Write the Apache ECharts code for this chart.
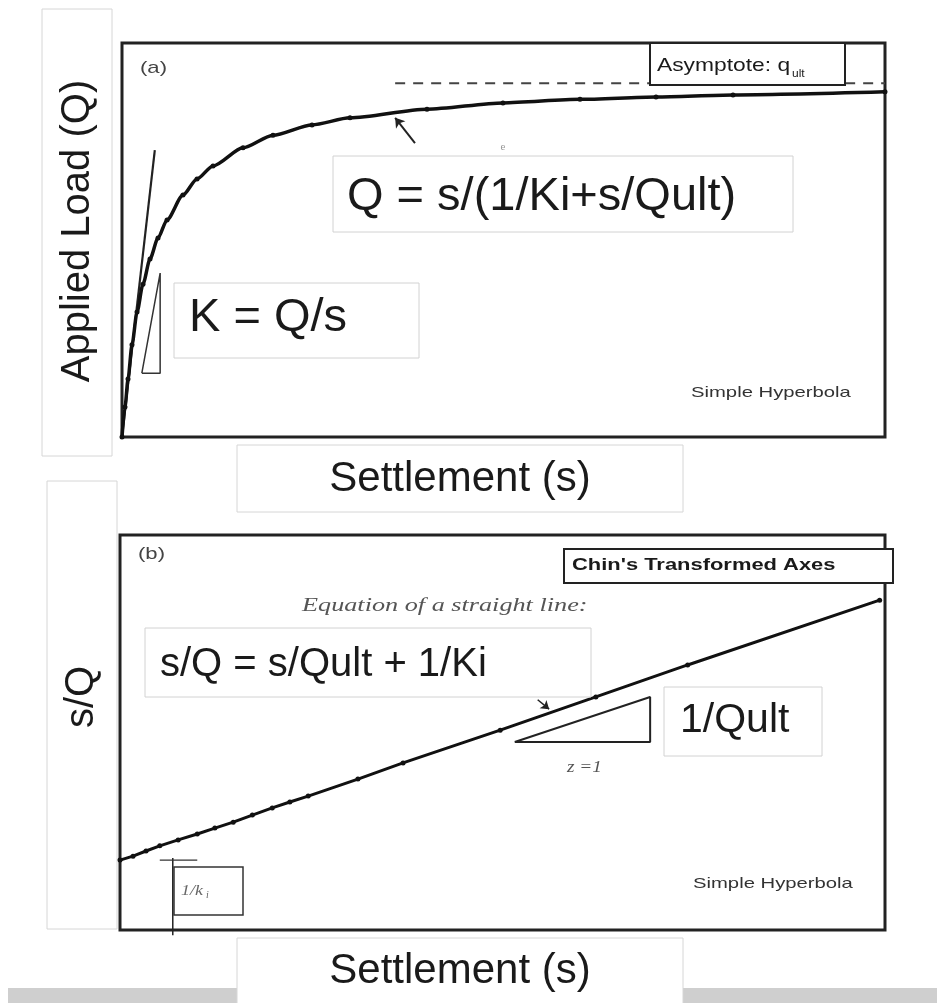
<!DOCTYPE html>
<html>
<head>
<meta charset="utf-8">
<script src="https://cdn.jsdelivr.net/npm/echarts@6/dist/echarts.min.js"></script>
<style>
html,body{margin:0;padding:0;background:#fff;}
#chart{width:937px;height:1003px;}
</style>
</head>
<body>
<div id="chart"></div>
<script>
// ---- Panel (a): load-settlement hyperbola (normalised 0-100 units) ----
const settlementA = [0, 0.39, 0.79, 1.31, 1.97, 2.75, 3.67, 4.72, 5.90, 7.99, 9.83, 11.93, 15.86, 19.79, 24.90, 29.88, 39.97, 49.93, 60.03, 69.99, 80.08, 100];
const loadA       = [0, 7.6, 14.7, 23.4, 31.7, 38.8, 45.2, 50.5, 55.1, 61.4, 65.5, 68.8, 73.4, 76.6, 79.2, 81.0, 83.2, 84.8, 85.7, 86.3, 86.8, 87.6];
const tangentS = [0, 4.3];
const tangentQ = [0, 72.8];
const triangleAS = [2.6, 5.0, 5.0, 2.6];
const triangleAQ = [16.2, 16.2, 41.6, 16.2];
const asymptoteS = [35.8, 100];
const asymptoteQ = [89.8, 89.8];
const arrowA = [[38.4, 74.6], [35.8, 81.0]];

// ---- Panel (b): Chin's transformed axes ----
const settlementB = [0, 1.7, 3.4, 5.2, 7.6, 10.1, 12.4, 14.8, 17.3, 19.9, 22.2, 24.6, 31.1, 37.0, 49.7, 62.2, 74.2, 99.3];
const ratioB      = [17.7, 18.7, 20.0, 21.3, 22.8, 24.3, 25.8, 27.3, 29.1, 30.9, 32.4, 33.9, 38.2, 42.3, 50.6, 59.0, 67.1, 83.5];
const triangleBS = [51.6, 69.3, 69.3, 51.6];
const triangleBV = [47.6, 59.0, 47.6, 47.6];
const interceptS = [6.9, 6.9];
const interceptV = [18.2, -1.3];
const interceptTickS = [5.2, 10.1];
const interceptTickV = [17.7, 17.7];
const arrowB = [[54.6, 58.3], [56.1, 55.9]];

// ---- Texts ----
const yLabelA = 'Applied Load (Q)';
const yLabelB = 's/Q';
const xLabel = 'Settlement (s)';
const eqA = 'Q = s/(1/Ki+s/Qult)';
const eqK = 'K = Q/s';
const eqB = 's/Q = s/Qult + 1/Ki';
const slopeLabel = '1/Qult';

function pairs(xs, ys){ return xs.map((x,i)=>[x, ys[i]]); }

const SANS = "'Liberation Sans', Arial, Helvetica, sans-serif";
const SERIF = "'Liberation Serif', 'Times New Roman', serif";

function box(x,y,w,h,stroke,lw,z){
  return {type:'rect', z: z||10, shape:{x:x,y:y,width:w,height:h},
    style:{fill:'#fff', stroke:stroke||'#d2d2d2', lineWidth:lw||1}};
}
function txt(x,y,text,font,fill,align,opts){
  const o = Object.assign({type:'text', z:20, x:x, y:y,
    style:{text:text, font:font, fill:fill||'#1a1a1a', textAlign:align||'left', textVerticalAlign:'middle', align:align||'left', verticalAlign:'middle'}}, opts||{});
  return o;
}

const chart = echarts.init(document.getElementById('chart'), null, {renderer:'canvas'});

const axisHidden = {show:false, min:0, max:100, splitLine:{show:false}};

chart.setOption({
  animation:false,
  backgroundColor:'#fff',
  grid:[
    {left:122, top:43, width:763, height:394, show:true, borderColor:'#222', borderWidth:3, backgroundColor:'transparent'},
    {left:120, top:535, width:765, height:395, show:true, borderColor:'#222', borderWidth:3, backgroundColor:'transparent'}
  ],
  xAxis:[Object.assign({type:'value', gridIndex:0}, axisHidden), Object.assign({type:'value', gridIndex:1}, axisHidden)],
  yAxis:[Object.assign({type:'value', gridIndex:0}, axisHidden), Object.assign({type:'value', gridIndex:1}, axisHidden)],
  series:[
    {type:'line', xAxisIndex:0, yAxisIndex:0, data:pairs(settlementA, loadA), smooth:0.25, smoothMonotone:'x',
     symbol:'circle', symbolSize:5, itemStyle:{color:'#111'}, lineStyle:{color:'#111', width:3.5}, z:5},
    {type:'line', xAxisIndex:0, yAxisIndex:0, data:pairs(tangentS, tangentQ), symbol:'none',
     lineStyle:{color:'#222', width:2.2}},
    {type:'line', xAxisIndex:0, yAxisIndex:0, data:pairs(triangleAS, triangleAQ), symbol:'none',
     lineStyle:{color:'#333', width:1.5}},
    {type:'line', xAxisIndex:0, yAxisIndex:0, data:pairs(asymptoteS, asymptoteQ), symbol:'none',
     lineStyle:{color:'#444', width:2, type:[10,8]}},
    {type:'lines', coordinateSystem:'cartesian2d', xAxisIndex:0, yAxisIndex:0, data:[{coords:arrowA}],
     symbol:['none','arrow'], symbolSize:9, lineStyle:{color:'#222', width:2, opacity:1}},
    {type:'line', xAxisIndex:1, yAxisIndex:1, data:pairs(settlementB, ratioB),
     symbol:'circle', symbolSize:5, itemStyle:{color:'#111'}, lineStyle:{color:'#111', width:3}, z:5},
    {type:'line', xAxisIndex:1, yAxisIndex:1, data:pairs(triangleBS, triangleBV), symbol:'none',
     lineStyle:{color:'#222', width:2}},
    {type:'line', xAxisIndex:1, yAxisIndex:1, data:pairs(interceptS, interceptV), symbol:'none', clip:false,
     lineStyle:{color:'#222', width:1.5}},
    {type:'line', xAxisIndex:1, yAxisIndex:1, data:pairs(interceptTickS, interceptTickV), symbol:'none', clip:false,
     lineStyle:{color:'#333', width:1.2}},
    {type:'lines', coordinateSystem:'cartesian2d', xAxisIndex:1, yAxisIndex:1, data:[{coords:arrowB}],
     symbol:['none','arrow'], symbolSize:8, lineStyle:{color:'#222', width:1.5, opacity:1}}
  ],
  graphic:[
    // bottom grey strip
    {type:'rect', z:1, shape:{x:8,y:988,width:929,height:15}, style:{fill:'#cfcfcf'}},
    // y-axis label boxes
    box(42,9,70,447,'#d6d6d6',1,2),
    txt(78,231,yLabelA,'40px '+SANS,'#1a1a1a','center',{rotation:Math.PI/2}),
    box(47,481,70,448,'#d6d6d6',1,2),
    txt(82,697,yLabelB,'40px '+SANS,'#1a1a1a','center',{rotation:Math.PI/2}),
    // x-axis label boxes
    box(237,445,446,67,'#d6d6d6',1,2),
    txt(460,479,xLabel,'42px '+SANS,'#1a1a1a','center'),
    box(237,938,446,70,'#d6d6d6',1,3),
    txt(460,971,xLabel,'42px '+SANS,'#1a1a1a','center'),
    // panel (a) annotations
    txt(140,68,'(a)','17px '+SANS,'#444','left',{scaleX:1.3}),
    box(650,43,195,42,'#222',2,30),
    txt(657,66,'Asymptote: q','19px '+SANS,'#1a1a1a','left',{scaleX:1.2,z:31}),
    txt(792,74,'ult','10px '+SANS,'#1a1a1a','left',{scaleX:1.2,z:31}),
    txt(503,147,'e','11px '+SERIF,'#999','center'),
    box(333,156,460,76,'#d2d2d2',1,10),
    txt(347,197,eqA,'47px '+SANS,'#1a1a1a','left'),
    box(174,283,245,75,'#d2d2d2',1,10),
    txt(189,318,eqK,'47px '+SANS,'#1a1a1a','left'),
    txt(691,393,'Simple Hyperbola','15px '+SANS,'#333','left',{scaleX:1.35}),
    // panel (b) annotations
    txt(138,554,'(b)','17px '+SANS,'#444','left',{scaleX:1.3}),
    box(564,549,329,34,'#222',2,30),
    txt(572,566,"Chin's Transformed Axes",'bold 16px '+SANS,'#1a1a1a','left',{scaleX:1.37,z:31}),
    txt(302,606,'Equation of a straight line:','italic 19px '+SERIF,'#555','left',{scaleX:1.38}),
    box(145,628,446,69,'#d2d2d2',1,10),
    txt(160,665,eqB,'40px '+SANS,'#1a1a1a','left'),
    box(664,687,158,69,'#d2d2d2',1,10),
    txt(680,721,slopeLabel,'41px '+SANS,'#1a1a1a','left'),
    txt(567,768,'z =1','italic 16px '+SERIF,'#555','left',{scaleX:1.2}),
    box(174,867,69,48,'#333',1.5,10),
    txt(181,891,'1/k','italic 15px '+SERIF,'#666','left',{scaleX:1.2}),
    txt(206,895,'i','italic 10px '+SERIF,'#666','left'),
    txt(693,884,'Simple Hyperbola','15px '+SANS,'#333','left',{scaleX:1.35})
  ]
});
</script>
</body>
</html>
